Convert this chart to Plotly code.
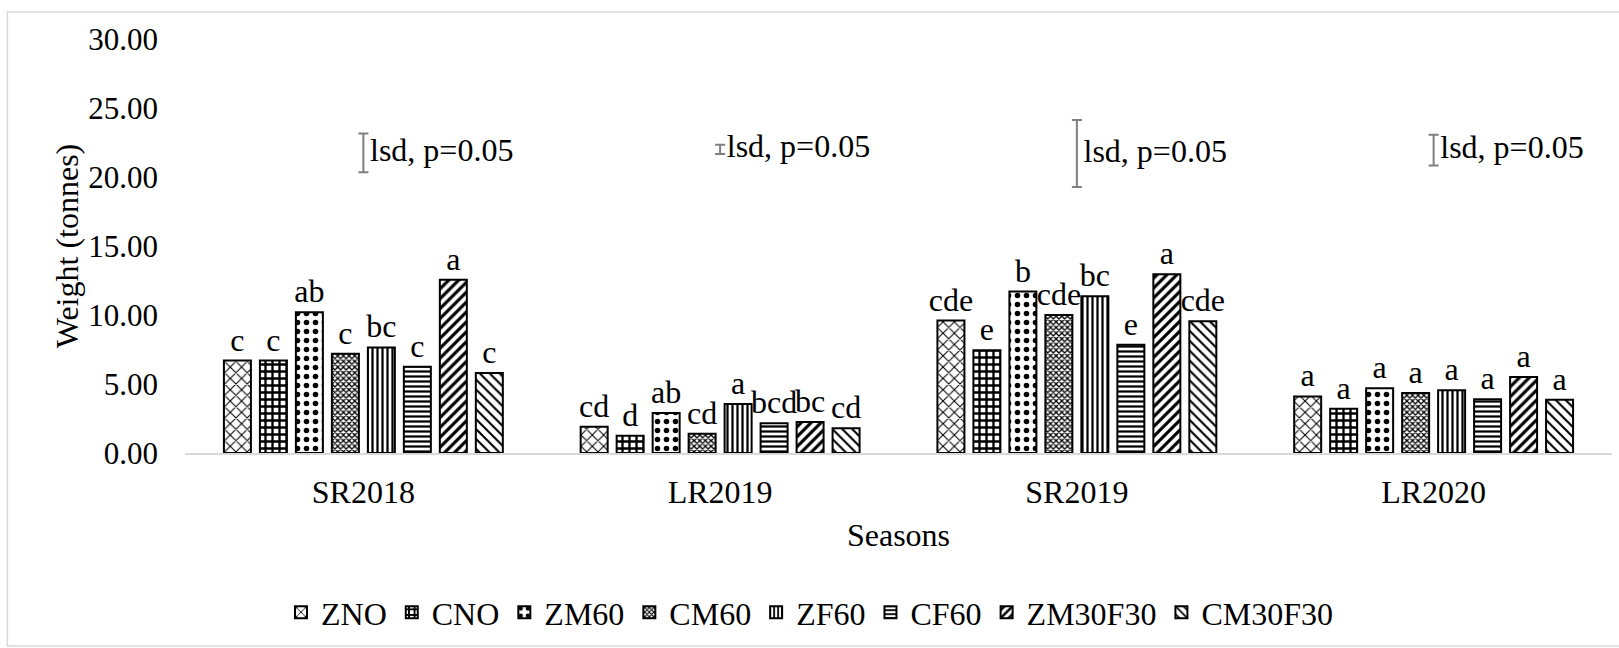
import plotly.graph_objects as go

categories = ["SR2018", "LR2019", "SR2019", "LR2020"]
series_names = ["ZNO", "CNO", "ZM60", "CM60", "ZF60", "CF60", "ZM30F30", "CM30F30"]

ZNO = [6.7, 1.9, 9.6, 4.1]
CNO = [6.7, 1.25, 7.45, 3.2]
ZM60 = [10.2, 2.9, 11.7, 4.7]
CM60 = [7.2, 1.4, 10.0, 4.35]
ZF60 = [7.65, 3.55, 11.35, 4.55]
CF60 = [6.25, 2.15, 7.85, 3.9]
ZM30F30 = [12.55, 2.25, 12.95, 5.5]
CM30F30 = [5.8, 1.8, 9.55, 3.85]

ZNO_sig = ["c", "cd", "cde", "a"]
CNO_sig = ["c", "d", "e", "a"]
ZM60_sig = ["ab", "ab", "b", "a"]
CM60_sig = ["c", "cd", "cde", "a"]
ZF60_sig = ["bc", "a", "bc", "a"]
CF60_sig = ["c", "bcd", "e", "a"]
ZM30F30_sig = ["a", "bc", "a", "a"]
CM30F30_sig = ["c", "cd", "cde", "a"]

lsd_center = [21.75, 22.0, 21.7, 21.95]
lsd_half = [1.41, 0.34, 2.43, 1.12]
lsd_text = "lsd, p=0.05"

values = [ZNO, CNO, ZM60, CM60, ZF60, CF60, ZM30F30, CM30F30]
sigs = [ZNO_sig, CNO_sig, ZM60_sig, CM60_sig, ZF60_sig, CF60_sig, ZM30F30_sig, CM30F30_sig]

patterns = [
    dict(shape="x", size=8, solidity=0.25),
    dict(shape="+", size=7, solidity=0.55),
    dict(shape=".", size=9, solidity=0.3),
    dict(shape="x", size=4, solidity=0.55),
    dict(shape="|", size=5, solidity=0.45),
    dict(shape="-", size=5, solidity=0.45),
    dict(shape="/", size=7, solidity=0.45),
    dict(shape="\\", size=7, solidity=0.3),
]

FONT = "Liberation Serif"
FS = 32
TFS = 31

fig = go.Figure()
for name, vals, sg, pat in zip(series_names, values, sigs, patterns):
    fig.add_trace(go.Bar(
        name=name, x=categories, y=vals, text=sg,
        textposition="outside", constraintext="none", cliponaxis=False,
        textfont=dict(family=FONT, size=FS, color="black"),
        marker=dict(color="white", line=dict(color="black", width=2),
                    pattern=dict(shape=pat["shape"], size=pat["size"], solidity=pat["solidity"],
                                 fgcolor="black", bgcolor="white", fillmode="replace")),
    ))

fig.add_trace(go.Scatter(
    x=categories, y=lsd_center, mode="markers+text",
    text=[lsd_text] * len(categories), textposition="middle right",
    textfont=dict(family=FONT, size=FS, color="black"),
    marker=dict(size=9, color="rgba(0,0,0,0)"),
    error_y=dict(type="data", array=lsd_half, visible=True, color="#7f7f7f", thickness=2, width=5),
    showlegend=False, cliponaxis=False,
))

fig.update_layout(
    width=1619, height=648,
    margin=dict(l=185, r=7, t=39, b=195),
    paper_bgcolor="white", plot_bgcolor="white",
    barmode="group", bargap=0.193, bargroupgap=0.25,
    font=dict(family=FONT, size=FS, color="black"),
    showlegend=True,
    legend=dict(orientation="h", xref="container", x=0.5, xanchor="center",
                yref="container", y=0.055, yanchor="middle",
                font=dict(family=FONT, size=FS, color="black"),
                traceorder="normal", itemwidth=30),
    xaxis=dict(showgrid=False, showline=True, linecolor="#d9d9d9", linewidth=2,
               ticks="", ticklabelstandoff=10, tickfont=dict(family=FONT, size=FS),
               title=dict(text="Seasons", standoff=14, font=dict(family=FONT, size=FS))),
    yaxis=dict(range=[0, 30], dtick=5, tickformat=".2f", showgrid=False, showline=False,
               zeroline=False, ticks="", ticklabelstandoff=26, tickfont=dict(family=FONT, size=TFS),
               title=dict(text="Weight (tonnes)", standoff=0, font=dict(family=FONT, size=FS))),
    shapes=[dict(type="rect", xref="paper", yref="paper",
                 x0=(9 - 185) / 1414, x1=(1616 - 185) / 1414,
                 y0=(453 - 646) / 414, y1=(453 - 12) / 414,
                 line=dict(color="#d9d9d9", width=1.5), fillcolor="rgba(0,0,0,0)", layer="below")],
)

fig.write_html("out.html")
